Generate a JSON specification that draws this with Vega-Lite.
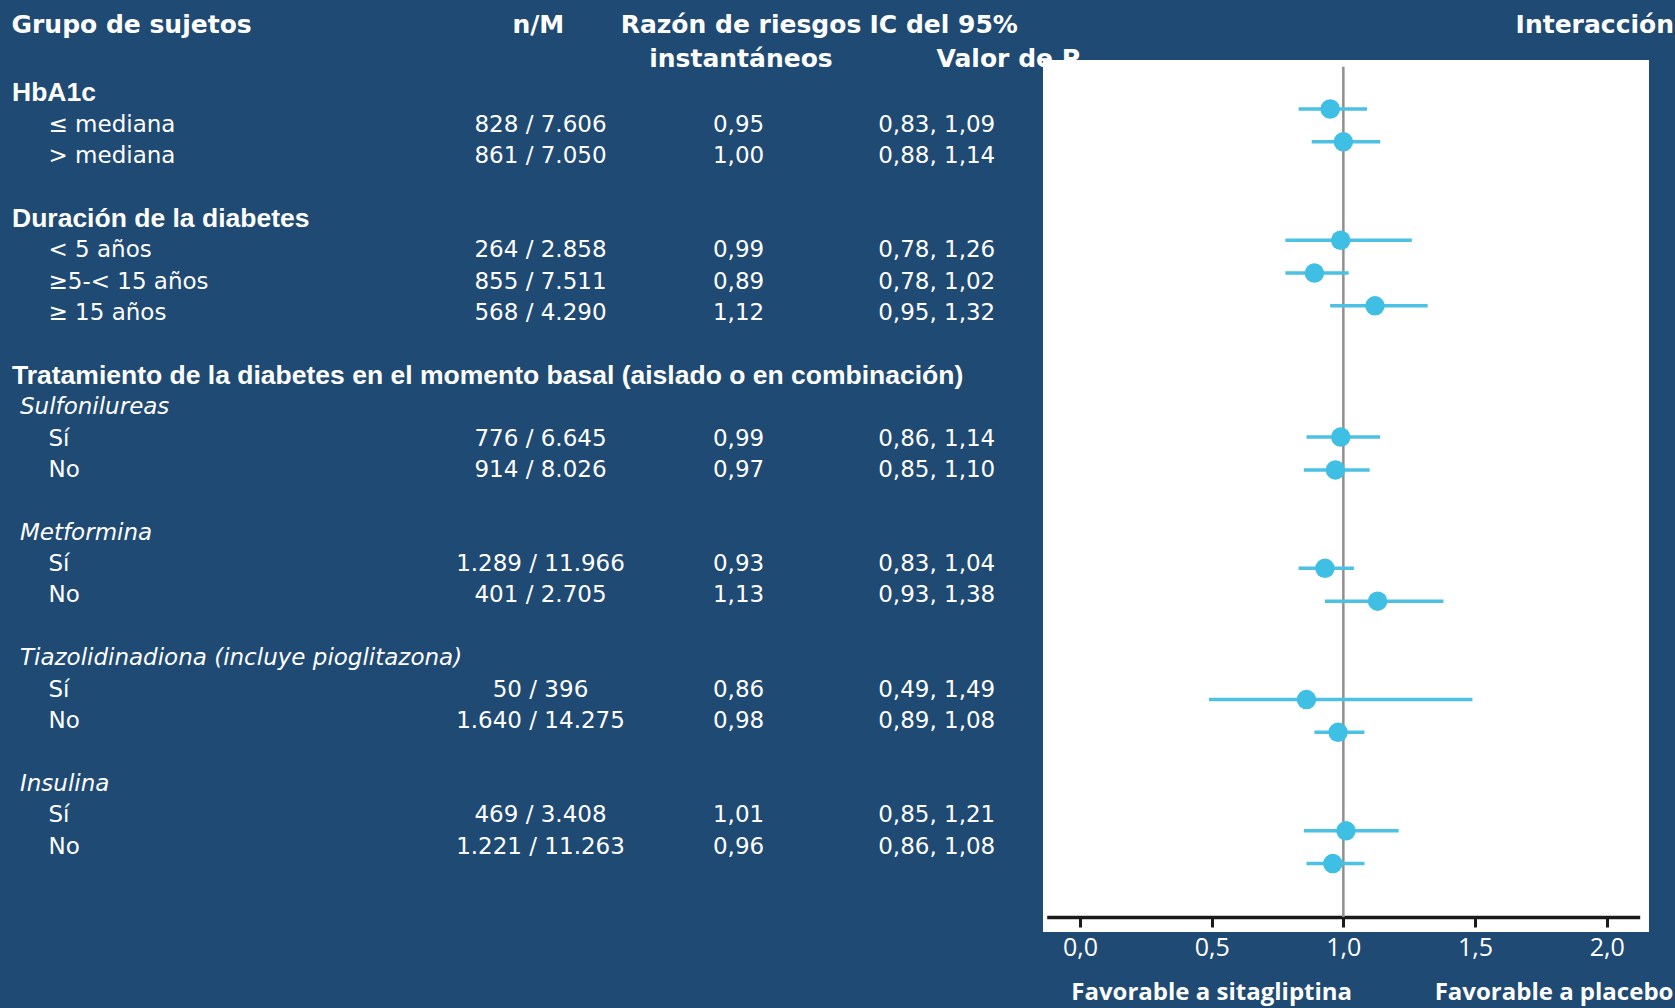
{
  "$schema": "https://vega.github.io/schema/vega-lite/v6.json",
  "width": 606,
  "height": 872,
  "autosize": {"type": "none"},
  "padding": {"left": 1043, "top": 60, "right": 26, "bottom": 76},
  "background": "#1f4a73",
  "config": {"view": {"fill": "#ffffff", "stroke": null}},
  "datasets": {
    "rows": [
      {"line": 0, "kind": "header", "label": "HbA1c"},
      {"line": 1, "kind": "item", "label": "≤ mediana", "nM": "828 / 7.606", "hr": "0,95", "ci": "0,83, 1,09", "est": 0.95, "lo": 0.83, "hi": 1.09},
      {"line": 2, "kind": "item", "label": "> mediana", "nM": "861 / 7.050", "hr": "1,00", "ci": "0,88, 1,14", "est": 1.0, "lo": 0.88, "hi": 1.14},
      {"line": 4, "kind": "header", "label": "Duración de la diabetes"},
      {"line": 5, "kind": "item", "label": "< 5 años", "nM": "264 / 2.858", "hr": "0,99", "ci": "0,78, 1,26", "est": 0.99, "lo": 0.78, "hi": 1.26},
      {"line": 6, "kind": "item", "label": "≥5-< 15 años", "nM": "855 / 7.511", "hr": "0,89", "ci": "0,78, 1,02", "est": 0.89, "lo": 0.78, "hi": 1.02},
      {"line": 7, "kind": "item", "label": "≥ 15 años", "nM": "568 / 4.290", "hr": "1,12", "ci": "0,95, 1,32", "est": 1.12, "lo": 0.95, "hi": 1.32},
      {"line": 9, "kind": "header", "label": "Tratamiento de la diabetes en el momento basal (aislado o en combinación)"},
      {"line": 10, "kind": "sub", "label": "Sulfonilureas"},
      {"line": 11, "kind": "item", "label": "Sí", "nM": "776 / 6.645", "hr": "0,99", "ci": "0,86, 1,14", "est": 0.99, "lo": 0.86, "hi": 1.14},
      {"line": 12, "kind": "item", "label": "No", "nM": "914 / 8.026", "hr": "0,97", "ci": "0,85, 1,10", "est": 0.97, "lo": 0.85, "hi": 1.10},
      {"line": 14, "kind": "sub", "label": "Metformina"},
      {"line": 15, "kind": "item", "label": "Sí", "nM": "1.289 / 11.966", "hr": "0,93", "ci": "0,83, 1,04", "est": 0.93, "lo": 0.83, "hi": 1.04},
      {"line": 16, "kind": "item", "label": "No", "nM": "401 / 2.705", "hr": "1,13", "ci": "0,93, 1,38", "est": 1.13, "lo": 0.93, "hi": 1.38},
      {"line": 18, "kind": "sub", "label": "Tiazolidinadiona (incluye pioglitazona)"},
      {"line": 19, "kind": "item", "label": "Sí", "nM": "50 / 396", "hr": "0,86", "ci": "0,49, 1,49", "est": 0.86, "lo": 0.49, "hi": 1.49},
      {"line": 20, "kind": "item", "label": "No", "nM": "1.640 / 14.275", "hr": "0,98", "ci": "0,89, 1,08", "est": 0.98, "lo": 0.89, "hi": 1.08},
      {"line": 22, "kind": "sub", "label": "Insulina"},
      {"line": 23, "kind": "item", "label": "Sí", "nM": "469 / 3.408", "hr": "1,01", "ci": "0,85, 1,21", "est": 1.01, "lo": 0.85, "hi": 1.21},
      {"line": 24, "kind": "item", "label": "No", "nM": "1.221 / 11.263", "hr": "0,96", "ci": "0,86, 1,08", "est": 0.96, "lo": 0.86, "hi": 1.08}
    ],
    "heads": [
      {"t": "Grupo de sujetos", "col": "grp", "line": 0},
      {"t": "Valor de P", "col": "p", "line": 1},
      {"t": "n/M", "col": "nM", "line": 0},
      {"t": "Razón de riesgos", "col": "hr", "line": 0},
      {"t": "instantáneos", "col": "hr", "line": 1},
      {"t": "IC del 95%", "col": "ic", "line": 0},
      {"t": "Interacción", "col": "int", "line": 0}
    ]
  },
  "data": {"name": "rows"},
  "layer": [
    {
      "data": {"name": "heads"},
      "encoding": {
        "y": {"field": "line", "type": "quantitative", "scale": {"domain": [0, 1], "range": [-35.1, -1.4], "zero": false, "nice": false}, "axis": null},
        "text": {"field": "t"}
      },
      "layer": [
        {
          "transform": [{"filter": "indexof(['grp','p'], datum.col) >= 0"}],
          "mark": {"type": "text", "align": "left", "baseline": "middle", "font": "DejaVu Sans", "fontWeight": "bold", "fontSize": 25, "color": "#ffffff"},
          "encoding": {"x": {"field": "col", "type": "nominal", "scale": {"type": "point", "domain": ["grp", "p"], "range": [-1031.5, -106.5], "padding": 0}, "axis": null}}
        },
        {
          "transform": [{"filter": "indexof(['nM','hr','ic'], datum.col) >= 0"}],
          "mark": {"type": "text", "align": "center", "baseline": "middle", "font": "DejaVu Sans", "fontWeight": "bold", "fontSize": 25, "color": "#ffffff"},
          "encoding": {"x": {"field": "col", "type": "nominal", "scale": {"type": "point", "domain": ["nM", "hr", "ic"], "range": [-504.7, -99.3], "padding": 0}, "axis": null}}
        },
        {
          "transform": [{"filter": "datum.col == 'int'"}],
          "mark": {"type": "text", "align": "right", "baseline": "middle", "font": "DejaVu Sans", "fontWeight": "bold", "fontSize": 25, "color": "#ffffff"},
          "encoding": {"x": {"field": "col", "type": "nominal", "scale": {"type": "point", "domain": ["int"], "range": [0, 631], "padding": 0, "align": 1}, "axis": null}}
        }
      ],
      "resolve": {"scale": {"x": "independent"}}
    },
    {
      "encoding": {
        "y": {"field": "line", "type": "quantitative", "scale": {"domain": [0, 24], "range": [33.2, 786.6], "zero": false, "nice": false}, "axis": null}
      },
      "layer": [
        {
          "layer": [
            {
              "transform": [{"filter": "datum.kind == 'header'"}],
              "mark": {"type": "text", "align": "left", "baseline": "middle", "font": "Liberation Sans", "fontWeight": "bold", "fontSize": 26.5, "color": "#ffffff"},
              "encoding": {
                "x": {"field": "kind", "type": "nominal", "scale": {"type": "point", "domain": ["header", "item"], "range": [-1031, -994.5], "padding": 0}, "axis": null},
                "text": {"field": "label"}
              }
            },
            {
              "transform": [{"filter": "datum.kind == 'sub'"}],
              "mark": {"type": "text", "align": "left", "baseline": "middle", "font": "DejaVu Sans", "fontStyle": "italic", "fontSize": 23, "color": "#ffffff", "dx": 8},
              "encoding": {
                "x": {"datum": "header", "type": "nominal", "scale": {"type": "point", "domain": ["header", "item"], "range": [-1031, -994.5], "padding": 0}, "axis": null},
                "text": {"field": "label"}
              }
            },
            {
              "transform": [{"filter": "datum.kind == 'item'"}],
              "mark": {"type": "text", "align": "left", "baseline": "middle", "font": "DejaVu Sans", "fontSize": 23, "color": "#ffffff"},
              "encoding": {
                "x": {"field": "kind", "type": "nominal", "scale": {"type": "point", "domain": ["header", "item"], "range": [-1031, -994.5], "padding": 0}, "axis": null},
                "text": {"field": "label"}
              }
            }
          ]
        },
        {
          "transform": [
            {"fold": ["nM", "hr", "ci"], "as": ["col", "val"]},
            {"filter": "datum.val != null"}
          ],
          "mark": {"type": "text", "align": "center", "baseline": "middle", "font": "DejaVu Sans", "fontSize": 23, "color": "#ffffff"},
          "encoding": {
            "x": {"field": "col", "type": "nominal", "scale": {"type": "point", "domain": ["nM", "hr", "ci"], "range": [-502.5, -106.3], "padding": 0}, "axis": null},
            "text": {"field": "val"}
          }
        }
      ],
      "resolve": {"scale": {"x": "independent"}}
    },
    {
      "layer": [
        {
          "data": {"values": [{"ref": 1}]},
          "mark": {"type": "rule", "color": "#8f8f8f", "strokeWidth": 2.5},
          "encoding": {
            "x": {
              "field": "ref", "type": "quantitative",
              "scale": {"domain": [-0.12645, 2.1253], "range": [3.7, 596.7], "zero": false, "nice": false},
              "axis": {
                "orient": "bottom", "offset": -15, "title": null, "grid": false,
                "values": [0, 0.5, 1, 1.5, 2],
                "labelExpr": "replace(format(datum.value, '.1f'), '.', ',')",
                "domainColor": "#1a1a1a", "domainWidth": 3.5,
                "tickColor": "#1a1a1a", "tickWidth": 3, "tickSize": 10,
                "labelColor": "#ffffff", "labelFont": "Open Sans", "labelFontSize": 25,
                "labelPadding": 20, "labelBaseline": "middle", "labelFlush": false, "labelOverlap": false
              }
            },
            "y": {"datum": -0.29, "type": "quantitative", "scale": {"domain": [0, 24], "range": [16.2, 803.6], "zero": false, "nice": false}, "axis": null},
            "y2": {"datum": 25.63}
          }
        },
        {
          "transform": [{"filter": "isValid(datum.est)"}],
          "mark": {"type": "rule", "color": "#4cc1e3", "strokeWidth": 3.5},
          "encoding": {
            "x": {
              "field": "lo", "type": "quantitative",
              "scale": {"domain": [-0.12645, 2.1253], "range": [3.7, 596.7], "zero": false, "nice": false},
              "axis": {
                "orient": "bottom", "offset": -15, "title": null, "grid": false,
                "values": [0, 0.5, 1, 1.5, 2],
                "labelExpr": "replace(format(datum.value, '.1f'), '.', ',')",
                "domainColor": "#1a1a1a", "domainWidth": 3.5,
                "tickColor": "#1a1a1a", "tickWidth": 3, "tickSize": 10,
                "labelColor": "#ffffff", "labelFont": "Open Sans", "labelFontSize": 25,
                "labelPadding": 20, "labelBaseline": "middle", "labelFlush": false, "labelOverlap": false
              }
            },
            "x2": {"field": "hi"},
            "y": {"field": "line", "type": "quantitative", "scale": {"domain": [0, 24], "range": [16.2, 803.6], "zero": false, "nice": false}, "axis": null}
          }
        },
        {
          "transform": [{"filter": "isValid(datum.est)"}],
          "mark": {"type": "circle", "color": "#3fbfe3", "opacity": 1, "size": 380},
          "encoding": {
            "x": {
              "field": "est", "type": "quantitative",
              "scale": {"domain": [-0.12645, 2.1253], "range": [3.7, 596.7], "zero": false, "nice": false},
              "axis": {
                "orient": "bottom", "offset": -15, "title": null, "grid": false,
                "values": [0, 0.5, 1, 1.5, 2],
                "labelExpr": "replace(format(datum.value, '.1f'), '.', ',')",
                "domainColor": "#1a1a1a", "domainWidth": 3.5,
                "tickColor": "#1a1a1a", "tickWidth": 3, "tickSize": 10,
                "labelColor": "#ffffff", "labelFont": "Open Sans", "labelFontSize": 25,
                "labelPadding": 20, "labelBaseline": "middle", "labelFlush": false, "labelOverlap": false
              }
            },
            "y": {"field": "line", "type": "quantitative", "scale": {"domain": [0, 24], "range": [16.2, 803.6], "zero": false, "nice": false}, "axis": null}
          }
        },
        {
          "data": {"values": [{"t": "Favorable a sitagliptina"}]},
          "mark": {"type": "text", "align": "center", "baseline": "middle", "font": "Open Sans", "fontWeight": "bold", "fontSize": 24, "color": "#ffffff"},
          "encoding": {
            "x": {
              "datum": 0.5, "type": "quantitative",
              "axis": {
                "orient": "bottom", "offset": -15, "title": null, "grid": false,
                "values": [0, 0.5, 1, 1.5, 2],
                "labelExpr": "replace(format(datum.value, '.1f'), '.', ',')",
                "domainColor": "#1a1a1a", "domainWidth": 3.5,
                "tickColor": "#1a1a1a", "tickWidth": 3, "tickSize": 10,
                "labelColor": "#ffffff", "labelFont": "Open Sans", "labelFontSize": 25,
                "labelPadding": 20, "labelBaseline": "middle", "labelFlush": false, "labelOverlap": false
              }
            },
            "y": {"datum": 27.95, "type": "quantitative", "axis": null},
            "text": {"field": "t"}
          }
        },
        {
          "data": {"values": [{"t": "Favorable a placebo"}]},
          "mark": {"type": "text", "align": "center", "baseline": "middle", "font": "Open Sans", "fontWeight": "bold", "fontSize": 24, "color": "#ffffff"},
          "encoding": {
            "x": {
              "datum": 1.8, "type": "quantitative",
              "axis": {
                "orient": "bottom", "offset": -15, "title": null, "grid": false,
                "values": [0, 0.5, 1, 1.5, 2],
                "labelExpr": "replace(format(datum.value, '.1f'), '.', ',')",
                "domainColor": "#1a1a1a", "domainWidth": 3.5,
                "tickColor": "#1a1a1a", "tickWidth": 3, "tickSize": 10,
                "labelColor": "#ffffff", "labelFont": "Open Sans", "labelFontSize": 25,
                "labelPadding": 20, "labelBaseline": "middle", "labelFlush": false, "labelOverlap": false
              }
            },
            "y": {"datum": 27.95, "type": "quantitative", "axis": null},
            "text": {"field": "t"}
          }
        }
      ]
    }
  ],
  "resolve": {"scale": {"x": "independent", "y": "independent"}}
}
